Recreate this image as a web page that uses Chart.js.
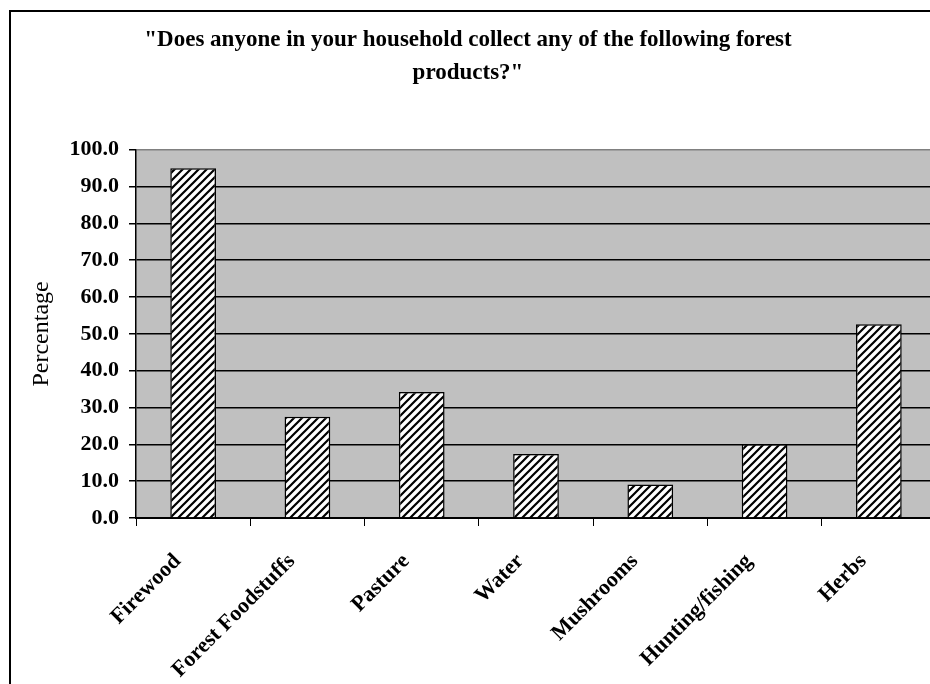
<!DOCTYPE html>
<html>
<head>
<meta charset="utf-8">
<title>Forest products</title>
<script src="https://cdn.jsdelivr.net/npm/chart.js@4"></script>
<style>
    html, body { margin: 0; padding: 0; background: #fff; overflow: hidden; }
    #wrap { position: relative; width: 936px; height: 684px; }
    #frame { position: absolute; left: 9px; top: 10px; right: 0; bottom: 0;
             border-left: 2px solid #000; border-top: 2px solid #000; pointer-events: none; }
</style>
</head>
<body>
<div id="wrap">
    <canvas id="myChart" width="936" height="684"></canvas>
    <div id="frame"></div>
</div>
<script>
// dados do gráfico
const categorias = ['Firewood', 'Forest Foodstuffs', 'Pasture', 'Water', 'Mushrooms', 'Hunting/fishing', 'Herbs'];
const percentuais = [95.0, 27.5, 34.2, 17.4, 9.1, 20.0, 52.6];
const yTicks = [0, 10, 20, 30, 40, 50, 60, 70, 80, 90, 100];
const titulo = ['"Does anyone in your household collect any of the following forest', 'products?"'];
const tituloEixoY = 'Percentage';

const serif = '"Liberation Serif", "Times New Roman", serif';

// padrão de hachura diagonal (/) para as barras
function criarHachura() {
    const c = document.createElement('canvas');
    c.width = 8;
    c.height = 8;
    const g = c.getContext('2d');
    g.fillStyle = '#fff';
    g.fillRect(0, 0, 8, 8);
    g.strokeStyle = '#000';
    g.lineWidth = 2.2;
    g.beginPath();
    g.moveTo(0, 8); g.lineTo(8, 0);
    g.moveTo(-2, 2); g.lineTo(2, -2);
    g.moveTo(6, 10); g.lineTo(10, 6);
    g.stroke();
    return g.createPattern(c, 'repeat');
}

// fundo cinza da área do gráfico
const fundoCinza = {
    id: 'fundoCinza',
    beforeDraw(chart) {
        const a = chart.chartArea;
        const ctx = chart.ctx;
        ctx.save();
        ctx.fillStyle = '#c0c0c0';
        ctx.fillRect(a.left, a.top, a.right - a.left, a.bottom - a.top);
        ctx.restore();
    }
};

const hachura = criarHachura();

new Chart(document.getElementById('myChart'), {
    type: 'bar',
    data: {
        labels: categorias,
        datasets: [{
            data: percentuais,
            backgroundColor: hachura,
            borderColor: '#000',
            borderWidth: 1.5,
            barPercentage: 0.4,
            categoryPercentage: 1.0
        }]
    },
    options: {
        responsive: false,
        animation: false,
        devicePixelRatio: 1,
        layout: { padding: 0 },
        plugins: {
            legend: { display: false },
            tooltip: { enabled: false },
            title: {
                display: true,
                text: titulo,
                color: '#000',
                font: { family: serif, size: 23, weight: 'bold', lineHeight: 1.43 },
                padding: { top: 24, bottom: 60 }
            }
        },
        scales: {
            x: {
                offset: true,
                grid: { drawOnChartArea: false, drawTicks: true, tickLength: 8, color: '#000', offset: true },
                border: { display: true, color: '#000', width: 2 },
                ticks: {
                    color: '#000',
                    maxRotation: 45,
                    minRotation: 45,
                    autoSkip: false,
                    padding: 7,
                    font: { family: serif, size: 22, weight: 'bold' },
                    // espaços no fim empurram o rótulo para baixo/esquerda, como no Excel
                    callback: function(v, i) { return this.getLabelForValue(v) + '    '; }
                },
                afterFit: s => { s.height = 166; }
            },
            y: {
                min: 0,
                max: 100,
                afterBuildTicks: s => { s.ticks = yTicks.map(v => ({ value: v })); },
                grid: {
                    color: c => (c.tick && c.tick.value === 100) ? '#808080' : '#000',
                    lineWidth: 1.5,
                    tickColor: '#000',
                    tickLength: 7
                },
                border: { display: true, color: '#000', width: 1.5 },
                ticks: {
                    color: '#000',
                    padding: 10,
                    font: { family: serif, size: 22, weight: 'bold' },
                    callback: v => Number(v).toFixed(1)
                },
                title: {
                    display: true,
                    text: tituloEixoY,
                    color: '#000',
                    font: { family: serif, size: 24 },
                    padding: { top: 27, bottom: 0 }
                },
                afterFit: s => { s.width = 136; }
            }
        }
    },
    plugins: [fundoCinza]
});
</script>
</body>
</html>
